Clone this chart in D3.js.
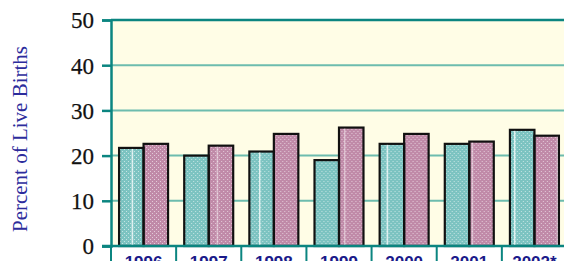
<!DOCTYPE html>
<html><head><meta charset="utf-8">
<script src="https://cdn.jsdelivr.net/npm/d3@7"></script>
<style>html,body{margin:0;padding:0;background:#fff;}svg{display:block;}</style>
</head><body>
<svg id="c" width="564" height="261"></svg>
<script>
const categories = ["1996","1997","1998","1999","2000","2001","2002*"];
const seriesNames = ["A","B"];
const seriesA = [21.7, 20.0, 20.9, 19.0, 22.6, 22.6, 25.7];
const seriesB = [22.6, 22.2, 24.8, 26.2, 24.8, 23.1, 24.4];
const yTicks = [0,10,20,30,40,50];
const yTitle = "Percent of Live Births";

const svg = d3.select("#c");
const L = 111, R = 567, T = 20, B = 246;
const x0 = d3.scaleBand().domain(categories).range([L, R]).paddingInner(0).paddingOuter(0);
const x1 = d3.scaleBand().domain(seriesNames).range([0, x0.bandwidth()]).paddingInner(0).paddingOuter(0.33);
const y = d3.scaleLinear().domain([0,50]).range([B, T]);

const defs = svg.append("defs");
function dotPattern(id, color) {
  const p = defs.append("pattern").attr("id", id).attr("patternUnits","userSpaceOnUse")
    .attr("width",4).attr("height",4);
  p.append("rect").attr("width",4).attr("height",4).attr("fill",color);
  p.append("rect").attr("x",1).attr("y",1).attr("width",1).attr("height",1).attr("fill","#fff").attr("opacity",0.55);
  p.append("rect").attr("x",3).attr("y",3).attr("width",1).attr("height",1).attr("fill","#fff").attr("opacity",0.55);
}
dotPattern("pA", "#7cc3c1");
dotPattern("pB", "#c08aa8");
function linePattern(id, op) {
  const p = defs.append("pattern").attr("id", id).attr("patternUnits","userSpaceOnUse")
    .attr("x", 4.2).attr("width",42.5).attr("height",10);
  p.append("rect").attr("x",0).attr("width",1.2).attr("height",10).attr("fill","#fff").attr("opacity",op);
}
linePattern("lA", 0.95);
linePattern("lB", 0.55);

const serif = "'Liberation Serif', 'Times New Roman', Times, serif";

// plot background
svg.append("rect").attr("x",L).attr("y",T).attr("width",R-L).attr("height",B-T).attr("fill","#fffde6");

// gridlines
svg.append("g").selectAll("line").data(yTicks.filter(d=>d>0 && d<50)).join("line")
  .attr("x1",L).attr("x2",R).attr("y1",d=>y(d)).attr("y2",d=>y(d))
  .attr("stroke","#6dbcae").attr("stroke-width",2);

// bars
const data = categories.map((c,i)=>({c, vals:[{s:"A",v:seriesA[i]},{s:"B",v:seriesB[i]}]}));
const gCat = svg.append("g").selectAll("g").data(data).join("g")
  .attr("transform", d=>`translate(${x0(d.c)},0)`);
gCat.selectAll("rect.bar").data(d=>d.vals).join("rect").attr("class","bar")
  .attr("x", d=>x1(d.s)).attr("width", x1.bandwidth())
  .attr("y", d=>y(d.v)).attr("height", d=>y(0)-y(d.v))
  .attr("fill", d=>d.s==="A"?"url(#pA)":"url(#pB)");
svg.append("g").selectAll("g").data(data).join("g")
  .selectAll("rect").data(d=>d.vals.map(v=>({...v,c:d.c}))).join("rect")
  .attr("x", d=>x0(d.c)+x1(d.s)+1).attr("width", x1.bandwidth()-2)
  .attr("y", d=>y(d.v)+1).attr("height", d=>y(0)-y(d.v)-1)
  .attr("fill", d=>d.s==="A"?"url(#lA)":"url(#lB)");
gCat.selectAll("rect.out").data(d=>d.vals).join("rect").attr("class","out")
  .attr("x", d=>x1(d.s)).attr("width", x1.bandwidth())
  .attr("y", d=>y(d.v)).attr("height", d=>y(0)-y(d.v))
  .attr("fill","none").attr("stroke","#111").attr("stroke-width",2.2);

// y axis
const yAxis = d3.axisLeft(y).tickValues(yTicks).tickSize(9).tickPadding(8).tickFormat(d3.format("d"));
const ga = svg.append("g").attr("transform",`translate(${L},0)`).call(yAxis);
ga.attr("font-family", serif).attr("font-size", 23);
ga.select(".domain").attr("stroke","#0b8580").attr("stroke-width",2.5);
ga.selectAll(".tick line").attr("stroke","#0b8580").attr("stroke-width",2.5);
ga.selectAll(".tick text").style("font-family", serif).style("font-size","23px")
  .attr("fill","#111").attr("stroke","#111").attr("stroke-width",0.25).attr("dy","0.34em");

// top border
svg.append("line").attr("x1",L).attr("x2",R).attr("y1",T).attr("y2",T)
  .attr("stroke","#0b8580").attr("stroke-width",2.5);
// bottom axis line
svg.append("line").attr("x1",102).attr("x2",R).attr("y1",B).attr("y2",B)
  .attr("stroke","#0b8580").attr("stroke-width",2.5);
// category separators below
svg.append("g").selectAll("line").data(categories).join("line")
  .attr("x1",d=>x0(d)).attr("x2",d=>x0(d)).attr("y1",B).attr("y2",261)
  .attr("stroke","#0b8580").attr("stroke-width",2);
// category labels
svg.append("g").selectAll("text").data(categories).join("text")
  .attr("x",d=>x0(d)+x0.bandwidth()/2).attr("y",268)
  .attr("text-anchor","middle").style("font-family","'Liberation Sans', Arial, sans-serif")
  .style("font-weight","bold").style("font-size","17px").attr("fill","#1a1a8a").text(d=>d);

// y title
svg.append("text").attr("transform","translate(26.5,139) rotate(-90)")
  .attr("text-anchor","middle").style("font-family", serif)
  .style("font-size","21px").attr("fill","#2c2c9c").text(yTitle);
</script>
</body></html>
